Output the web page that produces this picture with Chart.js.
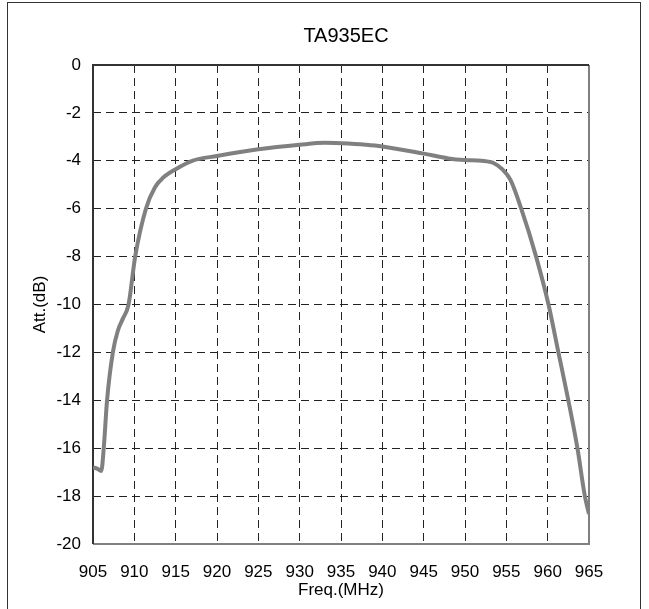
<!DOCTYPE html>
<html>
<head>
<meta charset="utf-8">
<script src="https://cdn.jsdelivr.net/npm/chart.js@4"></script>
<style>
  body { margin: 0; background: #fff; }
  #wrap { position: relative; width: 649px; height: 609px; overflow: hidden; }
  #frame { position: absolute; left: 7px; top: 2px; width: 632px; height: 640px; border: 1px solid #333; }
  #myChart { position: absolute; left: 0; top: 0; }
</style>
</head>
<body>
<div id="wrap">
  <div id="frame"></div>
  <canvas id="myChart" width="649" height="609"></canvas>
</div>
<script>
const chartTitle = 'TA935EC';
const freqs = [905, 905.5, 906, 906.3, 906.7, 907.4, 908.0, 908.6, 909.3, 910.1, 911.4,
  912.5, 913.5, 915, 917, 920, 925, 930, 933, 935, 938, 940, 945, 948, 950, 952,
  953.5, 954.5, 955.5, 956.8, 958.6, 960.1, 961.3, 962.5, 963.6, 964.5, 965];
const atts = [-16.8, -16.85, -16.95, -16.0, -14.0, -12.0, -11.1, -10.6, -10.0, -8.0, -6.0,
  -5.1, -4.7, -4.35, -4.0, -3.8, -3.52, -3.33, -3.25, -3.27, -3.33, -3.4, -3.7, -3.9, -3.97, -4.0,
  -4.1, -4.35, -4.8, -6.0, -8.0, -10.0, -12.0, -14.0, -16.0, -18.0, -18.75];
const freqTicks = [905, 910, 915, 920, 925, 930, 935, 940, 945, 950, 955, 960, 965];
const attTicks = [0, -2, -4, -6, -8, -10, -12, -14, -16, -18, -20];

const ctx = document.getElementById('myChart');

// marco do gráfico + título
const framePlugin = {
  id: 'framePlugin',
  beforeDatasetsDraw(chart) {
    const a = chart.chartArea;
    const c = chart.ctx;
    c.save();
    c.lineWidth = 2;
    c.strokeStyle = '#808080';
    c.beginPath();
    c.moveTo(a.left, a.bottom);
    c.lineTo(a.right, a.bottom);
    c.lineTo(a.right, a.top);
    c.stroke();
    c.strokeStyle = '#333';
    c.beginPath();
    c.moveTo(a.left, a.bottom);
    c.lineTo(a.left, a.top);
    c.lineTo(a.right, a.top);
    c.stroke();
    c.restore();
  },
  afterDraw(chart) {
    const c = chart.ctx;
    c.save();
    c.fillStyle = '#000';
    c.font = '20px "Liberation Sans", Arial, sans-serif';
    c.textAlign = 'center';
    c.textBaseline = 'middle';
    c.fillText(chartTitle, 346, 36);
    c.restore();
  }
};

const tickFont = { family: '"Liberation Sans", Arial, sans-serif', size: 17 };

new Chart(ctx, {
  type: 'line',
  data: {
    datasets: [{
      data: freqs.map((f, i) => ({ x: f, y: atts[i] })),
      borderColor: '#808080',
      borderWidth: 4,
      pointRadius: 0,
      cubicInterpolationMode: 'monotone',
      fill: false
    }]
  },
  options: {
    responsive: false,
    animation: false,
    layout: { padding: { top: 65, right: 60, left: 0, bottom: 0 } },
    plugins: { legend: { display: false }, tooltip: { enabled: false }, title: { display: false } },
    scales: {
      x: {
        type: 'linear',
        min: 905,
        max: 965,
        afterBuildTicks: axis => { axis.ticks = freqTicks.map(v => ({ value: v })); },
        afterFit: axis => { axis.height = 65; },
        grid: { color: '#222', lineWidth: 1, drawTicks: false },
        border: { display: false, dash: [8, 5] },
        ticks: { color: '#000', font: tickFont, padding: 18, maxRotation: 0, autoSkip: false },
        title: { display: true, text: 'Freq.(MHz)', color: '#000', font: tickFont, padding: { top: 0, bottom: 8 } }
      },
      y: {
        min: -20,
        max: 0,
        afterBuildTicks: axis => { axis.ticks = attTicks.map(v => ({ value: v })); },
        afterFit: axis => { axis.width = 93; },
        grid: { color: '#222', lineWidth: 1, drawTicks: false },
        border: { display: false, dash: [8, 5] },
        ticks: { color: '#000', font: tickFont, padding: 12, autoSkip: false },
        title: { display: true, text: 'Att.(dB)', color: '#000', font: tickFont, padding: { top: 30, bottom: 0 } }
      }
    }
  },
  plugins: [framePlugin]
});
</script>
</body>
</html>
